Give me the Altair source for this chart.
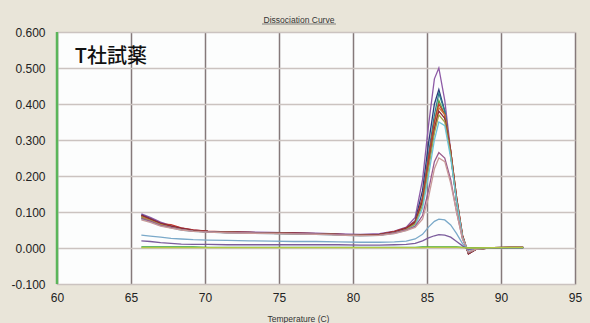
import altair as alt
import pandas as pd

temps = [65.7, 66.3, 67.0, 67.7, 68.4, 69.2, 70.2, 71.5, 73.0, 74.5, 76.0, 77.5, 79.0, 80.5, 81.8,
         82.8, 83.6, 84.2, 84.7, 85.1, 85.5, 85.8, 86.2, 86.6, 87.0, 87.4, 87.8, 88.3, 89.5, 91.5]

s01 = [0.095, 0.085, 0.072, 0.062, 0.055, 0.050, 0.046, 0.045, 0.044, 0.043, 0.042, 0.041, 0.039, 0.038, 0.040,
       0.047, 0.058, 0.085, 0.19, 0.34, 0.47, 0.50, 0.41, 0.27, 0.13, 0.03, -0.015, -0.004, 0.001, 0.002]
s02 = [0.092, 0.082, 0.068, 0.060, 0.053, 0.049, 0.046, 0.044, 0.043, 0.042, 0.041, 0.040, 0.038, 0.036, 0.038,
       0.045, 0.055, 0.075, 0.16, 0.29, 0.40, 0.44, 0.38, 0.26, 0.13, 0.03, -0.016, -0.004, 0.001, 0.002]
s03 = [0.088, 0.080, 0.066, 0.058, 0.052, 0.048, 0.045, 0.044, 0.042, 0.041, 0.040, 0.039, 0.037, 0.035, 0.037,
       0.044, 0.053, 0.070, 0.14, 0.26, 0.37, 0.43, 0.38, 0.26, 0.13, 0.03, -0.014, -0.003, 0.001, 0.002]
s04 = [0.085, 0.078, 0.066, 0.060, 0.054, 0.049, 0.046, 0.044, 0.042, 0.041, 0.040, 0.039, 0.037, 0.035, 0.037,
       0.043, 0.052, 0.068, 0.13, 0.24, 0.35, 0.41, 0.37, 0.26, 0.13, 0.03, -0.013, -0.003, 0.001, 0.001]
s05 = [0.090, 0.080, 0.067, 0.065, 0.056, 0.050, 0.047, 0.045, 0.043, 0.042, 0.041, 0.040, 0.038, 0.036, 0.038,
       0.046, 0.056, 0.074, 0.14, 0.25, 0.35, 0.40, 0.37, 0.27, 0.14, 0.035, -0.016, -0.004, 0.001, 0.002]
s06 = [0.088, 0.079, 0.066, 0.058, 0.052, 0.048, 0.045, 0.043, 0.042, 0.041, 0.040, 0.039, 0.037, 0.035, 0.037,
       0.044, 0.054, 0.070, 0.13, 0.23, 0.33, 0.39, 0.37, 0.27, 0.14, 0.035, -0.015, -0.004, 0.001, 0.002]
s07 = [0.091, 0.081, 0.069, 0.061, 0.055, 0.049, 0.046, 0.044, 0.043, 0.042, 0.041, 0.040, 0.038, 0.036, 0.038,
       0.045, 0.055, 0.072, 0.13, 0.23, 0.33, 0.38, 0.36, 0.27, 0.14, 0.035, -0.017, -0.004, 0.001, 0.002]
s08 = [0.083, 0.076, 0.064, 0.057, 0.051, 0.047, 0.045, 0.043, 0.042, 0.041, 0.040, 0.039, 0.037, 0.035, 0.036,
       0.042, 0.051, 0.066, 0.12, 0.22, 0.32, 0.37, 0.35, 0.26, 0.13, 0.03, -0.013, -0.003, 0.001, 0.001]
s09 = [0.080, 0.073, 0.062, 0.056, 0.050, 0.046, 0.044, 0.042, 0.041, 0.040, 0.039, 0.038, 0.036, 0.034, 0.035,
       0.041, 0.049, 0.062, 0.11, 0.20, 0.30, 0.35, 0.34, 0.25, 0.13, 0.03, -0.012, -0.003, 0.001, 0.001]
s10 = [0.082, 0.075, 0.063, 0.057, 0.051, 0.047, 0.045, 0.043, 0.042, 0.041, 0.040, 0.039, 0.037, 0.035, 0.036,
       0.042, 0.050, 0.060, 0.09, 0.16, 0.24, 0.265, 0.25, 0.19, 0.10, 0.025, -0.012, -0.003, 0.001, 0.001]
s11 = [0.078, 0.071, 0.061, 0.055, 0.050, 0.046, 0.044, 0.042, 0.041, 0.040, 0.039, 0.038, 0.036, 0.034, 0.035,
       0.040, 0.048, 0.057, 0.08, 0.14, 0.22, 0.25, 0.24, 0.18, 0.10, 0.025, -0.011, -0.003, 0.001, 0.001]
s12 = [0.036, 0.033, 0.030, 0.027, 0.025, 0.023, 0.022, 0.021, 0.020, 0.019, 0.018, 0.018, 0.017, 0.016, 0.016,
       0.017, 0.019, 0.025, 0.038, 0.058, 0.074, 0.080, 0.078, 0.064, 0.040, 0.012, -0.006, 0.000, 0.001, 0.001]
s13 = [0.020, 0.018, 0.015, 0.013, 0.011, 0.010, 0.010, 0.009, 0.009, 0.009, 0.009, 0.009, 0.009, 0.008, 0.008,
       0.009, 0.010, 0.013, 0.020, 0.028, 0.034, 0.037, 0.036, 0.030, 0.018, 0.006, -0.004, 0.000, 0.001, 0.001]
s14 = [0.003, 0.003, 0.003, 0.003, 0.003, 0.003, 0.002, 0.002, 0.002, 0.002, 0.002, 0.002, 0.002, 0.002, 0.002,
       0.002, 0.002, 0.002, 0.003, 0.003, 0.003, 0.003, 0.003, 0.003, 0.003, 0.002, 0.001, 0.001, 0.001, 0.001]
s15 = [0.001, 0.001, 0.001, 0.001, 0.001, 0.001, 0.001, 0.001, 0.001, 0.001, 0.001, 0.001, 0.001, 0.001, 0.001,
       0.001, 0.001, 0.001, 0.001, 0.002, 0.002, 0.002, 0.002, 0.002, 0.002, 0.001, 0.000, 0.000, 0.001, 0.002]

series = [s01, s02, s03, s04, s05, s06, s07, s08, s09, s10, s11, s12, s13, s14, s15]
names = ["A1", "A2", "A3", "A4", "A5", "A6", "A7", "A8", "A9", "A10", "A11", "A12", "A13", "A14", "A15"]
colors = ["#8d5aa6", "#2c3b7c", "#2d7f8c", "#5caa48", "#c23a2e", "#c97c3a", "#8a2b3c", "#a3a245",
          "#6cc3da", "#9a5a8c", "#c99a98", "#7aa9c9", "#7b5c9c", "#38a13e", "#b3c944"]

y_ticks = [-0.1, 0.0, 0.1, 0.2, 0.3, 0.4, 0.5, 0.6]
x_ticks = [60, 65, 70, 75, 80, 85, 90, 95]

rows = []
for n, s in zip(names, series):
    for t, v in zip(temps, s):
        rows.append({"series": n, "temp": t, "value": v})
df = pd.DataFrame(rows)

FONT = "Liberation Sans"

xscale = alt.Scale(domain=[60, 95], nice=False, zero=False)
yscale = alt.Scale(domain=[-0.1, 0.6], nice=False, zero=False)

lines = alt.Chart(df).mark_line(strokeWidth=1.3, clip=True).encode(
    x=alt.X("temp:Q", scale=xscale, title="Temperature (C)",
            axis=alt.Axis(values=x_ticks, tickCount=20, format="d")),
    y=alt.Y("value:Q", scale=yscale, title=None,
            axis=alt.Axis(values=y_ticks, tickCount=20,
                          labelExpr="replace(format(datum.value, '.3f'), '\u2212', '-')")),
    color=alt.Color("series:N", scale=alt.Scale(domain=names, range=colors), legend=None),
    detail="series:N",
)

greenaxis = alt.Chart(pd.DataFrame({"temp": [60]})).mark_rule(color="#5bb55a", strokeWidth=2.5).encode(
    x=alt.X("temp:Q", scale=xscale), y=alt.value(0), y2=alt.value(252)
)

label = alt.Chart(pd.DataFrame({"temp": [61.2], "value": [0.531], "txt": ["T社試薬"]})).mark_text(
    align="left", baseline="middle", fontSize=20, font="Noto Sans CJK JP", fontWeight=500, color="#111111"
).encode(x=alt.X("temp:Q", scale=xscale), y=alt.Y("value:Q", scale=yscale), text="txt:N")

title = alt.Chart(pd.DataFrame({"txt": ["Dissociation Curve"]})).mark_text(
    align="center", baseline="middle", fontSize=8.5, font=FONT, color="#333333"
).encode(x=alt.value(242), y=alt.value(-12), text="txt:N")

underline = alt.Chart(pd.DataFrame({"k": [0]})).mark_rule(color="#555555", strokeWidth=0.7).encode(
    x=alt.value(205), x2=alt.value(279), y=alt.value(-8)
)

chart = alt.layer(lines, greenaxis, label, title, underline).properties(
    width=518, height=252,
    autosize=alt.AutoSizeParams(type="none"),
    padding={"left": 57, "top": 32, "right": 15, "bottom": 39},
    background="#e9e5d9",
).configure_view(
    stroke=None, fill="#fcfdfd"
).configure_axis(
    domain=False, ticks=False, grid=True, gridOpacity=1, gridWidth=1.5,
    labelFontSize=12, labelColor="#222222", labelFont=FONT,
    labelFlush=False, labelOverlap=False, labelBound=False,
    titleFont=FONT, titleFontSize=8.5, titleFontWeight="normal", titleColor="#333333",
).configure_axisX(
    gridColor="#85797a", labelPadding=8, titlePadding=11, titleX=241,
).configure_axisY(
    gridColor="#cbc3c0", labelPadding=12,
)

chart.save("out.html", embed_options={"renderer": "svg", "actions": False})
